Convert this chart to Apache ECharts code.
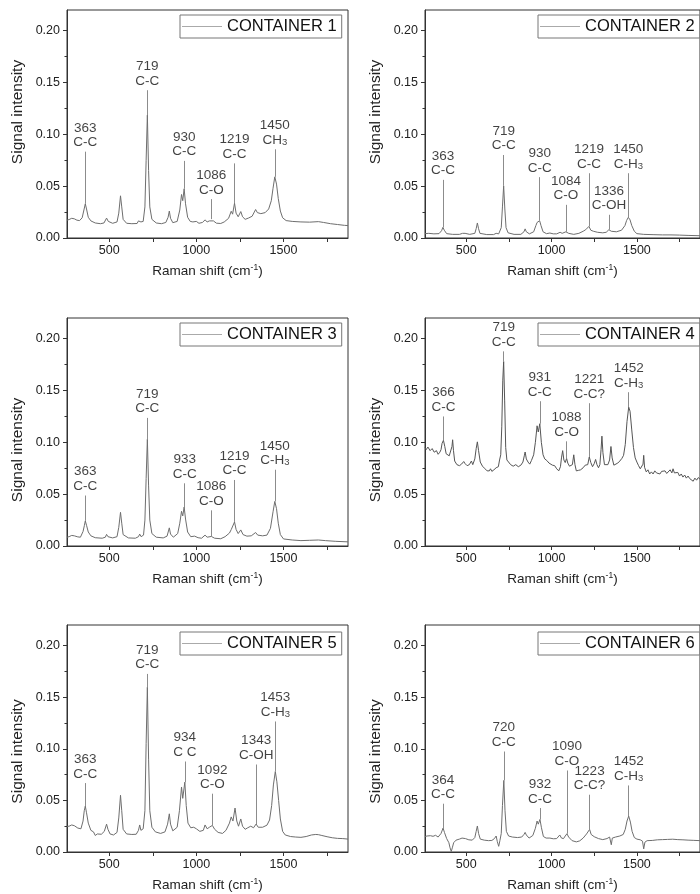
<!DOCTYPE html>
<html><head><meta charset="utf-8">
<script src="https://cdn.jsdelivr.net/npm/echarts@6/dist/echarts.min.js"></script>
<style>html,body{margin:0;padding:0;background:#fff}#c{width:700px;height:894px}</style>
</head><body><div id="c"></div>
<script>
const containers = ['CONTAINER 1','CONTAINER 2','CONTAINER 3','CONTAINER 4','CONTAINER 5','CONTAINER 6'];
const xTickValues = [500,750,1000,1250,1500,1750];
const xLabelValues = [500,1000,1500];
const yTickValues = [0,0.05,0.10,0.15,0.20];

const spec1 = [[258,0.0172],[270,0.0178],[285,0.019],[300,0.0185],[315,0.0172],[330,0.0168],[345,0.0195],[355,0.027],[363,0.033],[370,0.028],[380,0.020],[395,0.0165],[420,0.0145],[450,0.0138],[470,0.0145],[485,0.0192],[495,0.016],[520,0.0142],[545,0.0155],[555,0.024],[565,0.0407],[572,0.030],[580,0.018],[600,0.0142],[630,0.0138],[660,0.014],[668,0.0165],[675,0.018],[682,0.0155],[695,0.016],[705,0.030],[712,0.075],[719,0.1186],[726,0.065],[733,0.030],[745,0.018],[770,0.0145],[800,0.0138],[825,0.015],[838,0.020],[845,0.026],[852,0.019],[865,0.0148],[890,0.016],[905,0.027],[915,0.042],[922,0.036],[930,0.0475],[938,0.033],[950,0.020],[965,0.016],[980,0.0155],[990,0.0172],[1000,0.016],[1015,0.0142],[1035,0.015],[1050,0.0175],[1062,0.0155],[1075,0.0165],[1086,0.0182],[1098,0.0165],[1115,0.0143],[1140,0.014],[1160,0.0155],[1185,0.019],[1200,0.0258],[1208,0.023],[1219,0.0336],[1228,0.024],[1240,0.0205],[1255,0.0255],[1265,0.0205],[1280,0.018],[1300,0.0193],[1320,0.021],[1340,0.0275],[1350,0.0245],[1370,0.0235],[1395,0.0245],[1415,0.028],[1430,0.036],[1440,0.048],[1450,0.059],[1460,0.052],[1470,0.038],[1482,0.026],[1495,0.0195],[1515,0.0168],[1550,0.016],[1600,0.0155],[1650,0.0153],[1700,0.0158],[1730,0.015],[1770,0.0138],[1810,0.013],[1850,0.0122],[1870,0.012]];
const spec2 = [[258,0.0042],[280,0.0045],[310,0.004],[340,0.0042],[355,0.007],[363,0.0103],[371,0.0075],[385,0.0042],[420,0.0035],[460,0.0035],[478,0.0045],[485,0.006],[493,0.0045],[520,0.0035],[550,0.0045],[558,0.009],[565,0.0145],[572,0.009],[580,0.0045],[620,0.0033],[660,0.0033],[675,0.0045],[690,0.004],[705,0.010],[712,0.030],[719,0.0503],[726,0.028],[733,0.010],[745,0.005],[780,0.0035],[820,0.0035],[838,0.006],[845,0.0088],[852,0.006],[870,0.004],[895,0.006],[908,0.012],[915,0.015],[922,0.0135],[930,0.0167],[938,0.012],[950,0.006],[970,0.0042],[990,0.0048],[1010,0.004],[1030,0.004],[1050,0.0055],[1062,0.0045],[1084,0.006],[1100,0.0045],[1130,0.0035],[1160,0.0045],[1185,0.0065],[1200,0.008],[1210,0.0085],[1219,0.0112],[1230,0.0075],[1245,0.0065],[1255,0.0078],[1270,0.0055],[1300,0.005],[1320,0.0055],[1336,0.008],[1350,0.0065],[1380,0.006],[1410,0.0075],[1430,0.012],[1440,0.017],[1450,0.020],[1460,0.0175],[1470,0.012],[1485,0.0065],[1500,0.0042],[1540,0.0035],[1600,0.0032],[1650,0.003],[1700,0.003],[1750,0.0028],[1800,0.0025],[1870,0.0022]];
const spec3 = [[258,0.0085],[270,0.009],[285,0.0102],[300,0.0098],[320,0.0088],[335,0.0085],[350,0.014],[358,0.020],[363,0.0242],[370,0.020],[380,0.0135],[395,0.0098],[420,0.008],[460,0.0075],[478,0.0085],[485,0.0112],[493,0.009],[520,0.0078],[545,0.009],[555,0.018],[565,0.0325],[572,0.022],[580,0.011],[610,0.0078],[650,0.0075],[668,0.009],[675,0.0115],[683,0.009],[697,0.0105],[705,0.025],[712,0.065],[719,0.103],[726,0.058],[733,0.025],[745,0.012],[770,0.0085],[810,0.0078],[832,0.0095],[845,0.0175],[852,0.0115],[868,0.0085],[893,0.012],[905,0.022],[915,0.0335],[922,0.029],[930,0.0376],[938,0.026],[950,0.0135],[968,0.009],[990,0.0095],[1010,0.008],[1030,0.0075],[1050,0.0105],[1062,0.0085],[1086,0.0092],[1105,0.0075],[1140,0.007],[1165,0.009],[1190,0.0125],[1200,0.0158],[1210,0.0145],[1219,0.0232],[1228,0.016],[1240,0.012],[1255,0.0155],[1268,0.011],[1290,0.0095],[1315,0.0098],[1340,0.013],[1352,0.0105],[1380,0.0098],[1405,0.0105],[1425,0.017],[1440,0.033],[1450,0.043],[1460,0.036],[1470,0.022],[1482,0.011],[1500,0.0068],[1550,0.0058],[1600,0.0052],[1650,0.0055],[1700,0.0058],[1740,0.0052],[1800,0.0045],[1870,0.004]];
const spec4 = [[258,0.095],[265,0.093],[275,0.0955],[288,0.092],[300,0.094],[312,0.0905],[325,0.092],[335,0.0885],[345,0.0905],[352,0.093],[358,0.099],[366,0.102],[374,0.096],[382,0.089],[392,0.0875],[400,0.087],[410,0.088],[416,0.096],[420,0.1025],[425,0.092],[432,0.082],[445,0.0785],[460,0.0775],[472,0.079],[485,0.0815],[493,0.0795],[505,0.0775],[518,0.0785],[530,0.082],[538,0.0785],[550,0.084],[558,0.094],[565,0.1005],[572,0.092],[582,0.081],[595,0.077],[610,0.0745],[622,0.0725],[635,0.0725],[642,0.0745],[650,0.072],[662,0.0735],[675,0.0755],[688,0.0765],[695,0.083],[702,0.088],[708,0.115],[714,0.160],[719,0.178],[725,0.140],[731,0.095],[738,0.083],[748,0.0815],[760,0.0785],[775,0.077],[790,0.0785],[805,0.0765],[820,0.078],[832,0.081],[840,0.087],[845,0.0907],[852,0.084],[862,0.081],[872,0.079],[882,0.0825],[895,0.088],[905,0.100],[915,0.116],[922,0.110],[931,0.118],[940,0.100],[950,0.088],[960,0.084],[972,0.0825],[985,0.080],[995,0.0805],[1005,0.078],[1018,0.0775],[1030,0.0745],[1042,0.0725],[1052,0.0765],[1058,0.085],[1065,0.092],[1072,0.083],[1080,0.0805],[1088,0.0845],[1095,0.080],[1105,0.077],[1115,0.0755],[1122,0.0785],[1130,0.088],[1137,0.0785],[1145,0.0725],[1158,0.073],[1170,0.0735],[1185,0.0755],[1197,0.078],[1205,0.0795],[1212,0.0785],[1221,0.0859],[1230,0.0805],[1240,0.0765],[1250,0.0795],[1258,0.0835],[1266,0.0785],[1275,0.0755],[1283,0.0785],[1290,0.093],[1295,0.106],[1301,0.090],[1310,0.0785],[1320,0.077],[1330,0.0785],[1340,0.083],[1348,0.096],[1355,0.085],[1365,0.078],[1375,0.0775],[1388,0.080],[1400,0.082],[1412,0.0845],[1422,0.0875],[1432,0.098],[1442,0.120],[1452,0.134],[1460,0.130],[1470,0.112],[1480,0.095],[1490,0.085],[1500,0.081],[1510,0.0775],[1520,0.0745],[1530,0.0735],[1536,0.079],[1540,0.0875],[1545,0.076],[1555,0.0715],[1565,0.0735],[1575,0.0695],[1585,0.0715],[1595,0.0695],[1605,0.0725],[1615,0.0705],[1625,0.0715],[1635,0.0695],[1645,0.072],[1655,0.0705],[1665,0.0725],[1675,0.070],[1685,0.0715],[1695,0.0735],[1705,0.0705],[1712,0.0745],[1720,0.0705],[1730,0.069],[1740,0.071],[1750,0.0675],[1760,0.0695],[1770,0.0665],[1780,0.0685],[1790,0.0655],[1800,0.0675],[1810,0.065],[1820,0.0665],[1830,0.0625],[1840,0.0655],[1850,0.0635],[1860,0.066],[1870,0.0645]];
const spec5 = [[258,0.0248],[270,0.025],[285,0.0262],[300,0.0255],[320,0.0232],[338,0.0225],[350,0.030],[357,0.040],[363,0.0445],[370,0.038],[380,0.028],[395,0.021],[410,0.0195],[420,0.016],[432,0.0175],[455,0.0172],[472,0.020],[485,0.027],[493,0.022],[505,0.0175],[525,0.0165],[545,0.019],[555,0.033],[565,0.055],[572,0.040],[580,0.022],[600,0.0175],[630,0.017],[655,0.0172],[668,0.021],[675,0.0262],[682,0.021],[695,0.0225],[705,0.040],[712,0.105],[719,0.1597],[726,0.090],[733,0.040],[745,0.024],[765,0.0195],[795,0.018],[820,0.0195],[835,0.027],[845,0.037],[852,0.027],[865,0.0205],[890,0.024],[903,0.040],[915,0.063],[922,0.052],[934,0.0677],[942,0.045],[952,0.028],[968,0.0235],[985,0.024],[1000,0.0225],[1020,0.020],[1040,0.021],[1050,0.0262],[1062,0.0225],[1075,0.024],[1092,0.0258],[1105,0.022],[1125,0.019],[1150,0.018],[1170,0.021],[1190,0.028],[1200,0.034],[1210,0.030],[1222,0.0426],[1232,0.030],[1242,0.025],[1255,0.032],[1265,0.025],[1280,0.022],[1295,0.0235],[1312,0.025],[1328,0.0235],[1343,0.0271],[1355,0.024],[1380,0.024],[1405,0.026],[1420,0.031],[1432,0.045],[1442,0.065],[1453,0.078],[1462,0.068],[1472,0.050],[1482,0.032],[1495,0.020],[1510,0.0165],[1540,0.015],[1570,0.0145],[1600,0.0142],[1630,0.015],[1660,0.0165],[1685,0.017],[1700,0.0168],[1720,0.016],[1750,0.0148],[1780,0.0138],[1810,0.0132],[1840,0.013],[1870,0.0125]];
const spec6 = [[258,0.015],[270,0.0155],[290,0.0158],[305,0.0152],[320,0.0162],[335,0.0145],[345,0.014],[352,0.018],[364,0.0232],[372,0.019],[385,0.013],[398,0.009],[405,0.004],[412,0.0005],[418,0.004],[426,0.009],[440,0.0115],[460,0.0125],[475,0.0135],[485,0.015],[495,0.013],[515,0.0118],[535,0.0115],[550,0.014],[558,0.020],[565,0.0252],[572,0.018],[582,0.0125],[605,0.0115],[630,0.011],[650,0.0112],[665,0.013],[675,0.0155],[682,0.010],[690,0.0055],[697,0.011],[705,0.018],[712,0.045],[720,0.0694],[727,0.040],[735,0.020],[748,0.0155],[770,0.0145],[800,0.014],[825,0.0145],[838,0.017],[845,0.019],[852,0.0165],[868,0.0135],[890,0.016],[905,0.023],[915,0.030],[922,0.027],[932,0.0316],[940,0.024],[952,0.015],[968,0.0135],[990,0.0135],[1010,0.0128],[1030,0.013],[1048,0.0165],[1058,0.0135],[1070,0.013],[1080,0.0155],[1090,0.0177],[1100,0.0145],[1120,0.011],[1145,0.0098],[1165,0.0108],[1185,0.0135],[1205,0.0175],[1215,0.0185],[1223,0.0219],[1232,0.017],[1250,0.0148],[1275,0.013],[1300,0.012],[1325,0.013],[1340,0.0145],[1345,0.0155],[1350,0.007],[1356,0.0135],[1375,0.0145],[1400,0.0155],[1420,0.017],[1432,0.022],[1442,0.030],[1452,0.0348],[1462,0.029],[1472,0.020],[1485,0.014],[1500,0.0125],[1520,0.0118],[1533,0.0105],[1540,0.003],[1547,0.0095],[1560,0.011],[1590,0.0112],[1620,0.0118],[1650,0.012],[1680,0.0122],[1710,0.0124],[1740,0.012],[1770,0.0118],[1800,0.0115],[1830,0.0113],[1870,0.011]];

// peak annotations: [shift, label level, peak level, number, assignment]
const peaks1 = [[363,0.0833,0.033,'363','C-C'],[719,0.1426,0.1186,'719','C-C'],[930,0.0744,0.0475,'930','C-C'],[1086,0.0375,0.0182,'1086','C-O'],[1219,0.072,0.0336,'1219','C-C'],[1450,0.0856,0.059,'1450','CH_3']];
const peaks2 = [[363,0.0561,0.0103,'363','C-C'],[719,0.0801,0.0503,'719','C-C'],[930,0.0587,0.0167,'930','C-C'],[1084,0.032,0.006,'1084','C-O'],[1219,0.0625,0.0112,'1219','C-C'],[1336,0.0224,0.008,'1336','C-OH'],[1450,0.0625,0.020,'1450','C-H_3']];
const peaks3 = [[363,0.0487,0.0242,'363','C-C'],[719,0.1236,0.103,'719','C-C'],[933,0.0605,0.0376,'933','C-C'],[1086,0.0344,0.0092,'1086','C-O'],[1219,0.0637,0.0232,'1219','C-C'],[1450,0.0736,0.043,'1450','C-H_3']];
const peaks4 = [[366,0.125,0.102,'366','C-C'],[719,0.1878,0.178,'719','C-C'],[931,0.1397,0.118,'931','C-C'],[1088,0.101,0.0845,'1088','C-O'],[1221,0.1378,0.0859,'1221','C-C?'],[1452,0.1484,0.134,'1452','C-H_3']];
const peaks5 = [[363,0.0668,0.0445,'363','C-C'],[719,0.1726,0.1597,'719','C-C'],[934,0.0877,0.0677,'934','C C'],[1092,0.0565,0.0258,'1092','C-O'],[1343,0.0848,0.0271,'1343','C-OH'],[1453,0.1265,0.078,'1453','C-H_3']];
const peaks6 = [[364,0.0468,0.0232,'364','C-C'],[720,0.0974,0.0694,'720','C-C'],[932,0.0426,0.0316,'932','C-C'],[1090,0.079,0.0177,'1090','C-O'],[1223,0.0555,0.0219,'1223','C-C?'],[1452,0.0645,0.0348,'1452','C-H_3']];

const spectra = [spec1,spec2,spec3,spec4,spec5,spec6];
const peaks = [peaks1,peaks2,peaks3,peaks4,peaks5,peaks6];

const FONT = '"Liberation Sans", Arial, Helvetica, sans-serif';
const lefts = [67, 425];
const tops = [10, 318, 625];
const GW = 281, GH = 228;
const yNamePad = [[0,0,0,24],[0,36,0,0],[0,26,0,0]];

const grid=[], xAxis=[], yAxis=[], series=[], legend=[];
for (let i=0;i<6;i++){
  const row = Math.floor(i/2), col = i%2;
  grid.push({left:lefts[col], top:tops[row], width:GW, height:GH, show:true, borderColor:'#333', borderWidth:1, backgroundColor:'transparent'});
  xAxis.push({type:'value', gridIndex:i, min:258, max:1870,
    axisLine:{show:true, onZero:false, lineStyle:{color:'#333', width:1}},
    axisTick:{show:true, length:4, customValues:xTickValues, lineStyle:{color:'#333'}},
    axisLabel:{show:true, customValues:xLabelValues, margin:6, fontSize:12.5, color:'#222', fontFamily:FONT,
      formatter:v=>String(Math.round(v))},
    splitLine:{show:false},
    name:'Raman shift (cm{s|-1})', nameLocation:'middle', nameGap:25,
    nameTextStyle:{fontSize:13.5, color:'#222', fontFamily:FONT, lineHeight:16,
      rich:{s:{fontSize:8.5, lineHeight:8, verticalAlign:'top', color:'#222', fontFamily:FONT}}}
  });
  yAxis.push({type:'value', gridIndex:i, min:0, max:0.22, interval:0.05,
    axisLine:{show:true, onZero:false, lineStyle:{color:'#333', width:1}},
    axisTick:{show:true, length:4, customValues:yTickValues, lineStyle:{color:'#333'}},
    minorTick:{show:true, splitNumber:2, length:2.5, lineStyle:{color:'#333'}},
    axisLabel:{show:true, customValues:yTickValues, margin:7, fontSize:12.5, color:'#222', fontFamily:FONT,
      formatter:v=>Number(v).toFixed(2)},
    splitLine:{show:false},
    name:'Signal intensity', nameLocation:'middle', nameGap:41,
    nameTextStyle:{fontSize:15.5, color:'#222', fontFamily:FONT, padding:yNamePad[row]}
  });
  series.push({type:'line', name:containers[i], xAxisIndex:i, yAxisIndex:i, data:spectra[i],
    symbol:'none', showSymbol:false, animation:false, silent:true,
    lineStyle:{color:i===3?'#555':'#6e6e6e', width:1}, itemStyle:{color:'#6e6e6e'},
    emphasis:{disabled:true},
    markLine:{silent:true, animation:false, symbol:['none','none'], label:{show:false},
      lineStyle:{color:'#8c8c8c', width:1, type:'solid'}, emphasis:{disabled:true},
      data:peaks[i].map(p=>[{coord:[p[0],p[1]]},{coord:[p[0],p[2]]}])}
  });
  series.push({type:'scatter', xAxisIndex:i, yAxisIndex:i, symbolSize:0, silent:true, animation:false,
    data:peaks[i].map(p=>({value:[p[0],p[1]], num:p[3], grp:p[4]})),
    label:{show:true, position:'top', distance:2, color:'#111',
      formatter:prm=>{
        const d=prm.data; const parts=d.grp.split('_');
        const g = parts.length>1 ? `{a|${parts[0]}}{s|${parts[1]}}` : `{a|${parts[0]}}`;
        return `{a|${d.num}}\n${g}`;
      },
      rich:{a:{fontSize:13.5, lineHeight:14.5, color:'#111', fontFamily:FONT},
            s:{fontSize:9.5, lineHeight:5, verticalAlign:'bottom', color:'#111', fontFamily:FONT}}
    }
  });
  legend.push({data:[containers[i]], left:lefts[col]+113, top:tops[row]+(row===2?7:5),
    selectedMode:false, icon:'rect', itemWidth:40, itemHeight:1, itemGap:0,
    padding:[3,5,3,2], borderColor:'#777', borderWidth:1, backgroundColor:'#fff',
    itemStyle:{color:'#aaa'}, textStyle:{fontSize:16.5, color:'#111', fontFamily:FONT}});
}

const chart = echarts.init(document.getElementById('c'), null, {renderer:'canvas'});
chart.setOption({backgroundColor:'#fff', animation:false, textStyle:{fontFamily:FONT},
  grid, xAxis, yAxis, series, legend});
</script>
</body></html>
